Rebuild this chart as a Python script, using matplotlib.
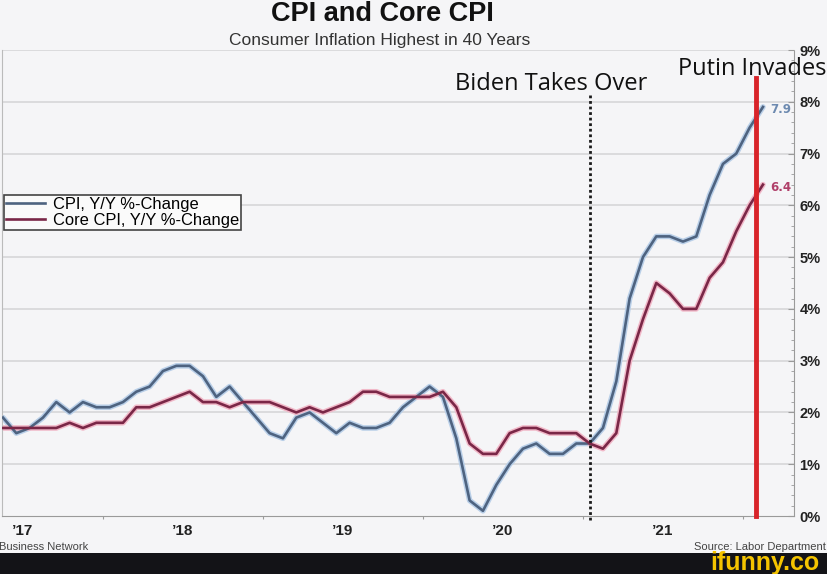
import numpy as np
import matplotlib.pyplot as plt
from matplotlib.patches import Rectangle

# monthly y/y % change, May 2017 .. Feb 2022
cpi = [1.9, 1.6, 1.7, 1.9, 2.2, 2.0, 2.2, 2.1,
       2.1, 2.2, 2.4, 2.5, 2.8, 2.9, 2.9, 2.7, 2.3, 2.5, 2.2, 1.9,
       1.6, 1.5, 1.9, 2.0, 1.8, 1.6, 1.8, 1.7, 1.7, 1.8, 2.1, 2.3,
       2.5, 2.3, 1.5, 0.3, 0.1, 0.6, 1.0, 1.3, 1.4, 1.2, 1.2, 1.4,
       1.4, 1.7, 2.6, 4.2, 5.0, 5.4, 5.4, 5.3, 5.4, 6.2, 6.8, 7.0,
       7.5, 7.9]
core = [1.7, 1.7, 1.7, 1.7, 1.7, 1.8, 1.7, 1.8,
        1.8, 1.8, 2.1, 2.1, 2.2, 2.3, 2.4, 2.2, 2.2, 2.1, 2.2, 2.2,
        2.2, 2.1, 2.0, 2.1, 2.0, 2.1, 2.2, 2.4, 2.4, 2.3, 2.3, 2.3,
        2.3, 2.4, 2.1, 1.4, 1.2, 1.2, 1.6, 1.7, 1.7, 1.6, 1.6, 1.6,
        1.4, 1.3, 1.6, 3.0, 3.8, 4.5, 4.3, 4.0, 4.0, 4.6, 4.9, 5.5,
        6.0, 6.4]
start_year, start_month = 2017, 5
year_labels = ["\u201917", "\u201918", "\u201919", "\u201920", "\u201921"]
biden_date = 2021.044
putin_date = 2022.081

months = np.arange(len(cpi))
x = start_year + (start_month - 1 + months + 0.5) / 12.0

bg = '#f5f5f7'
fig = plt.figure(figsize=(8.28, 5.74), dpi=100, facecolor=bg)
ax = fig.add_axes([2/828, 58/574, 792/828, 466/574], facecolor=bg)

ax.set_xlim(2017.369, 2022.319)
ax.set_ylim(0, 9)

for v in range(1, 10):
    ax.axhline(v, color='#d6d6d8', lw=1.2, zorder=0)

# lines with soft halo like the original
ax.plot(x, cpi, color='#b9cfe8', lw=4, solid_capstyle='round', zorder=2)
ax.plot(x, cpi, color='#4e6380', lw=1.9, zorder=3, label='CPI, Y/Y %-Change')
ax.plot(x, core, color='#f1b8c8', lw=4, solid_capstyle='round', zorder=2)
ax.plot(x, core, color='#7a2747', lw=1.9, zorder=3, label='Core CPI, Y/Y %-Change')

ax.text(x[-1] + 0.045, cpi[-1] - 0.05, f'{cpi[-1]}', color='#6d8ab0', fontsize=8.5,
        fontweight='bold', va='center', ha='left')
ax.text(x[-1] + 0.045, core[-1] - 0.05, f'{core[-1]}', color='#b0406a', fontsize=8.5,
        fontweight='bold', va='center', ha='left')

ax.plot([biden_date, biden_date], [-0.08, 8.15], color='#1a1a1a', lw=2,
        ls=(0, (1, 1)), clip_on=False, zorder=4)
ax.plot([putin_date, putin_date], [0, 8.46], color='#d8242a', lw=3.5,
        clip_on=False, zorder=4)

ax.text(biden_date - 0.24, 8.35, 'Biden Takes Over', fontsize=17,
        family='Open Sans', ha='center', va='center', color='#111111')
ax.text(putin_date - 0.02, 8.63, 'Putin Invades', fontsize=17,
        family='Open Sans', ha='center', va='center', color='#111111',
        clip_on=False, zorder=5)

# axes styling
ax.spines['top'].set_visible(False)
ax.spines['left'].set_color('#bbbbbb')
ax.spines['bottom'].set_color('#9a9a9a')
ax.spines['right'].set_color('#9a9a9a')
ax.spines['right'].set_linestyle((0, (2, 1)))

ax.yaxis.tick_right()
ax.set_yticks(range(0, 10))
ax.set_yticklabels([f'{v}%' for v in range(0, 10)], fontsize=10.5,
                   fontweight='bold', color='#222222', family='Liberation Sans')
ax.set_yticks(np.arange(0, 9, 0.2), minor=True)
ax.tick_params(axis='y', which='major', length=4, direction='in', color='#9a9a9a', pad=4)
ax.tick_params(axis='y', which='minor', length=2, direction='in', color='#9a9a9a')

ax.set_xticks([2018, 2019, 2020, 2021, 2022])
ax.set_xticklabels([])
ax.tick_params(axis='x', which='major', length=2, color='#9a9a9a')
ax.set_xticks([2017.5, 2018.5, 2019.5, 2020.5, 2021.5], minor=True)
ax.set_xticklabels(year_labels, minor=True, fontsize=11, fontweight='bold',
                   color='#222222', family='Liberation Sans')
ax.tick_params(axis='x', which='minor', length=0, pad=6)

leg = ax.legend(loc='upper left', bbox_to_anchor=(0.002, 0.689), frameon=True,
                fancybox=False, handlelength=2.4, handletextpad=0.45,
                labelspacing=0.05, borderpad=0.12, borderaxespad=0,
                prop={'family': 'Liberation Sans', 'size': 11.9})
leg.get_frame().set_edgecolor('#444444')
leg.get_frame().set_linewidth(1.2)
leg.get_frame().set_facecolor('#fafafa')
leg.get_frame().set_alpha(1)

fig.text(382/828, 1 - 14/574, 'CPI and Core CPI', fontsize=19.5, fontweight='bold',
         family='Liberation Sans', ha='center', va='center', color='#111111')
fig.text(380/828, 1 - 40/574, 'Consumer Inflation Highest in 40 Years', fontsize=12.5,
         family='Liberation Sans', ha='center', va='center', color='#333333')
fig.text(-1/828, 1 - 547/574, 'Business Network', fontsize=8, family='Liberation Sans',
         ha='left', va='center', color='#444444')
fig.text(826/828, 1 - 547/574, 'Source: Labor Department', fontsize=8,
         family='Liberation Sans', ha='right', va='center', color='#444444')

# bottom watermark band
fig.patches.append(Rectangle((0, 0), 1, 21/574, transform=fig.transFigure,
                             facecolor='#131317', edgecolor='none', zorder=-1))
fig.text(820/828, 1 - 563/574, 'ifunny.co', fontsize=18, fontweight='bold',
         family='Liberation Sans', ha='right', va='center', color='#f5c400')

fig.savefig('out.png', dpi=100, facecolor=bg)
